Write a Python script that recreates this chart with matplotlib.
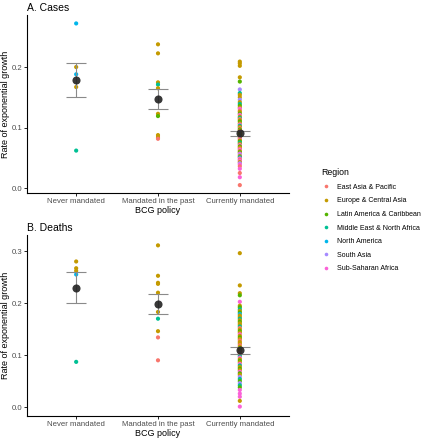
import matplotlib.pyplot as plt
from matplotlib.lines import Line2D

plt.rcParams['font.family'] = ['Liberation Sans', 'DejaVu Sans']

policies = ['Never mandated', 'Mandated in the past', 'Currently mandated']
regions = ['East Asia & Pacific', 'Europe & Central Asia', 'Latin America & Caribbean',
           'Middle East & North Africa', 'North America', 'South Asia', 'Sub-Saharan Africa']
region_colors = ['#F8766D', '#C49A00', '#53B400', '#00C094', '#00B6EB', '#A58AFF', '#FB61D7']

# A. Cases - values and region index per country
cases_never = [0.272, 0.200, 0.188, 0.167, 0.062]
cases_never_reg = [4, 1, 4, 1, 3]
cases_past = [0.2375, 0.2226, 0.1747, 0.171, 0.165, 0.1228, 0.119, 0.0876, 0.0843, 0.0815]
cases_past_reg = [1, 1, 1, 3, 1, 1, 2, 1, 1, 0]
cases_now = [0.209, 0.206, 0.202, 0.183, 0.176, 0.163, 0.157, 0.154, 0.150, 0.146,
             0.142, 0.139, 0.136, 0.133, 0.131, 0.128, 0.126, 0.123, 0.121, 0.118,
             0.116, 0.114, 0.112, 0.110, 0.107, 0.105, 0.103, 0.101, 0.099, 0.097,
             0.095, 0.093, 0.091, 0.089, 0.087, 0.085, 0.083, 0.081, 0.079, 0.077,
             0.075, 0.073, 0.071, 0.069, 0.067, 0.065, 0.063, 0.061, 0.059, 0.057,
             0.055, 0.053, 0.051, 0.049, 0.047, 0.045, 0.043, 0.041, 0.039, 0.036,
             0.032, 0.025, 0.018, 0.005]
cases_now_reg = [1, 1, 1, 1, 2, 5, 3, 1, 1, 5,
                 1, 3, 2, 1, 6, 0, 1, 2, 6, 1,
                 3, 0, 1, 2, 1, 6, 3, 1, 0, 2,
                 1, 6, 1, 1, 2, 0, 1, 6, 1, 2,
                 3, 1, 6, 2, 1, 0, 6, 1, 2, 6,
                 5, 1, 3, 6, 0, 6, 1, 5, 6, 0,
                 6, 0, 6, 0]
cases_mean = [0.178, 0.147, 0.091]
cases_lo = [0.151, 0.131, 0.0865]
cases_hi = [0.206, 0.163, 0.0947]

# B. Deaths
deaths_never = [0.280, 0.267, 0.262, 0.255, 0.087]
deaths_never_reg = [1, 1, 1, 4, 3]
deaths_past = [0.311, 0.2525, 0.239, 0.237, 0.220, 0.183, 0.170, 0.146, 0.134, 0.090]
deaths_past_reg = [1, 1, 1, 1, 1, 1, 3, 1, 0, 0]
deaths_now = [0.296, 0.234, 0.219, 0.215, 0.2025, 0.195, 0.192, 0.188, 0.185, 0.182,
              0.179, 0.176, 0.173, 0.170, 0.167, 0.164, 0.161, 0.158, 0.155, 0.152,
              0.149, 0.146, 0.143, 0.140, 0.137, 0.134, 0.131, 0.128, 0.125, 0.122,
              0.119, 0.116, 0.113, 0.110, 0.107, 0.104, 0.101, 0.098, 0.095, 0.092,
              0.089, 0.086, 0.083, 0.080, 0.077, 0.074, 0.071, 0.068, 0.065, 0.062,
              0.058, 0.054, 0.050, 0.046, 0.042, 0.038, 0.033, 0.026, 0.020, 0.012,
              0.001]
deaths_now_reg = [1, 1, 1, 2, 6, 1, 2, 3, 1, 2,
                  4, 1, 1, 3, 1, 2, 1, 1, 3, 0,
                  1, 2, 1, 6, 1, 2, 1, 0, 1, 1,
                  0, 1, 2, 1, 1, 6, 1, 3, 6, 1,
                  2, 1, 6, 3, 1, 2, 1, 6, 2, 1,
                  5, 3, 2, 5, 3, 2, 6, 6, 6, 1,
                  6]
deaths_mean = [0.229, 0.199, 0.109]
deaths_lo = [0.200, 0.179, 0.102]
deaths_hi = [0.259, 0.217, 0.115]

fig = plt.figure(figsize=(4.23, 4.40), dpi=100)
ax_a = fig.add_axes([0.064, 0.561, 0.619, 0.405])
ax_b = fig.add_axes([0.064, 0.055, 0.619, 0.411])

panels = [
    (ax_a, 'A. Cases', [cases_never, cases_past, cases_now],
     [cases_never_reg, cases_past_reg, cases_now_reg], cases_mean, cases_lo, cases_hi,
     (-0.0083, 0.286), [0.0, 0.1, 0.2]),
    (ax_b, 'B. Deaths', [deaths_never, deaths_past, deaths_now],
     [deaths_never_reg, deaths_past_reg, deaths_now_reg], deaths_mean, deaths_lo, deaths_hi,
     (-0.0167, 0.331), [0.0, 0.1, 0.2, 0.3]),
]

for ax, title, groups, group_regs, means, lo, hi, ylim, yt in panels:
    for i, (vals, regs) in enumerate(zip(groups, group_regs)):
        ax.scatter([i + 1] * len(vals), vals, s=9, c=[region_colors[r] for r in regs],
                   linewidths=0, zorder=2)
    xs = [1, 2, 3]
    yerr = [[m - l for m, l in zip(means, lo)], [h - m for m, h in zip(means, hi)]]
    ax.errorbar(xs, means, yerr=yerr, fmt='none', ecolor='#8a8a8a', elinewidth=0.8,
                capsize=7.5, capthick=0.8, zorder=3)
    ax.scatter(xs, means, s=34, color='#222222', alpha=0.9, linewidths=0, zorder=4)
    ax.set_xlim(0.4, 3.6)
    ax.set_ylim(*ylim)
    ax.set_xticks(xs)
    ax.set_xticklabels(policies)
    ax.set_yticks(yt)
    ax.set_yticklabels(['%.1f' % v for v in yt])
    ax.tick_params(labelsize=5.6, labelcolor='#4d4d4d', length=2, width=0.6, pad=1.5)
    for side in ['top', 'right']:
        ax.spines[side].set_visible(False)
    for side in ['left', 'bottom']:
        ax.spines[side].set_linewidth(0.8)
    ax.set_xlabel('BCG policy', fontsize=6.5, labelpad=1)
    ax.set_ylabel('Rate of exponential growth', fontsize=6.5)
    ax.yaxis.set_label_coords(-0.066, 0.5)
    ax.set_title(title, fontsize=7.5, loc='left', x=0.0, pad=3)

handles = [Line2D([], [], marker='o', linestyle='', markersize=2.6, markeredgewidth=0,
                  color=c) for c in region_colors]
fig.legend(handles, regions, title='Region', loc='upper left', bbox_to_anchor=(0.745, 0.632),
           frameon=False, fontsize=5.0, title_fontsize=6.3, handletextpad=1.0,
           labelspacing=0.95, handlelength=1.2, alignment='left')

fig.savefig('out.png', dpi=100)
